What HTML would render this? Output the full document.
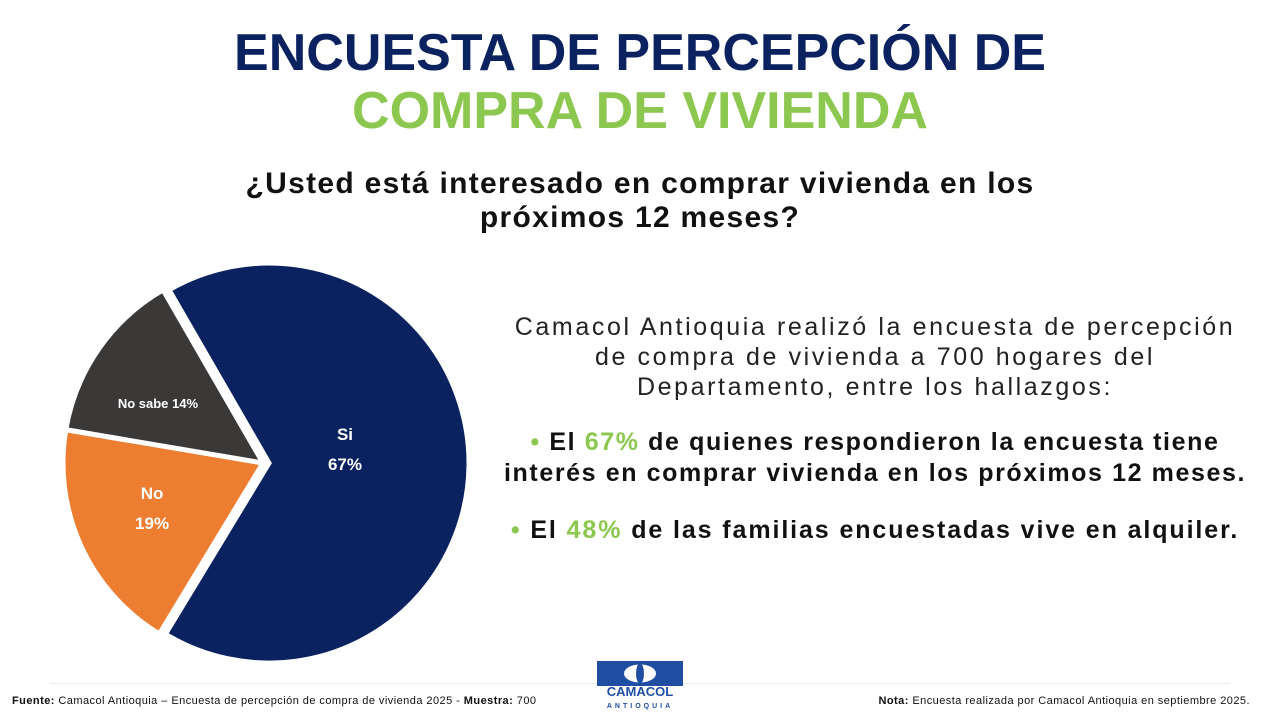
<!DOCTYPE html>
<html><head><meta charset="utf-8"><style>
body{margin:0;width:1280px;height:720px;background:#fff;font-family:"Liberation Sans",sans-serif;position:relative;overflow:hidden}
.abs{position:absolute}
</style></head><body>
<div class="abs" style="left:0;width:1280px;top:23px;text-align:center;font-size:52px;font-weight:bold;color:#0b2260;letter-spacing:0px">ENCUESTA DE PERCEPCIÓN DE</div>
<div class="abs" style="left:0;width:1280px;top:81px;text-align:center;font-size:52px;font-weight:bold;color:#8cc850;letter-spacing:0px">COMPRA DE VIVIENDA</div>
<div class="abs" style="left:0;width:1280px;top:167px;text-align:center;font-size:30px;font-weight:bold;color:#111;line-height:34px;letter-spacing:1.3px">¿Usted está interesado en comprar vivienda en los<br>próximos 12 meses?</div>

<svg class="abs" style="left:0;top:0" width="1280" height="720" id="pie"></svg>

<div class="abs" style="left:480px;width:790px;top:312px;text-align:center;font-size:25px;color:#222;line-height:30px;letter-spacing:2.6px">Camacol Antioquia realizó la encuesta de percepción<br>de compra de vivienda a 700 hogares del<br>Departamento, entre los hallazgos:</div>
<div class="abs" style="left:480px;width:790px;top:427px;text-align:center;font-size:25px;font-weight:bold;color:#111;line-height:31px;letter-spacing:1.6px"><span style="color:#8cc850">•</span> El <span style="color:#8cc850">67%</span> de quienes respondieron la encuesta tiene<br>interés en comprar vivienda en los próximos 12 meses.</div>
<div class="abs" style="left:480px;width:790px;top:515px;text-align:center;font-size:25px;font-weight:bold;color:#111;line-height:31px;letter-spacing:1.9px"><span style="color:#8cc850">•</span> El <span style="color:#8cc850">48%</span> de las familias encuestadas vive en alquiler.</div>

<div class="abs" style="left:50px;width:1180px;top:683px;height:1px;background:#eee"></div>
<div class="abs" style="left:12px;top:695px;font-size:11px;color:#111;letter-spacing:0.45px"><b>Fuente:</b> Camacol Antioquia – Encuesta de percepción de compra de vivienda 2025 - <b>Muestra:</b> 700</div>
<div class="abs" style="right:30px;top:695px;font-size:11px;color:#111;letter-spacing:0.45px"><b>Nota:</b> Encuesta realizada por Camacol Antioquia en septiembre 2025.</div>
<div class="abs" style="left:597px;top:661px;width:86px;height:25px;background:#1f4ea3">
<svg width="86" height="25"><ellipse cx="43" cy="12.5" rx="16" ry="9" fill="#fff"/><ellipse cx="43" cy="12.5" rx="4" ry="10" fill="#1f4ea3"/></svg></div>
<div class="abs" style="left:590px;width:100px;top:686px;text-align:center;font-size:13px;font-weight:bold;color:#1f4ea3;line-height:12px">CAMACOL<br><span style="font-size:7px;letter-spacing:3px">ANTIOQUIA</span></div>

<script>
const categories=["Si","No","No sabe"];
const values=[67,19,14];
const labels=["67%","19%","14%"];
const colors=["#0b2260","#ed7d31","#3b3838"];
const svg=document.getElementById('pie');
const ns="http://www.w3.org/2000/svg";
const cx=263,cy=463,r=200,start=-30;
const total=values.reduce((a,b)=>a+b,0);
let a=start;
function pt(deg,rad,ox,oy){const t=deg*Math.PI/180;return [ox+rad*Math.sin(t),oy-rad*Math.cos(t)];}
values.forEach((v,i)=>{
  const sweep=v/total*360;const mid=a+sweep/2;
  const off=i===0?6:0;
  const [ox,oy]=pt(mid,off,cx,cy);
  const p1=pt(a,r,ox,oy),p2=pt(a+sweep,r,ox,oy);
  const path=document.createElementNS(ns,'path');
  path.setAttribute('d',`M${ox},${oy}L${p1[0]},${p1[1]}A${r},${r} 0 ${sweep>180?1:0} 1 ${p2[0]},${p2[1]}Z`);
  path.setAttribute('fill',colors[i]);path.setAttribute('stroke','#fff');path.setAttribute('stroke-width','5');
  
  
  svg.appendChild(path);
  const lr=i===0?76:(i===1?122:117);
  const [lx,ly]=pt(mid,lr,ox,oy);
  const t=document.createElementNS(ns,'text');
  t.setAttribute('text-anchor','middle');t.setAttribute('fill','#fff');t.setAttribute('font-weight','bold');
  t.setAttribute('font-family','Liberation Sans, sans-serif');
  
  
  const dy=i===0?-14:-5;
  if(i===2){t.setAttribute('font-size','13');t.setAttribute('x',lx-9);t.setAttribute('y',ly+12);t.textContent=categories[i]+' '+labels[i];}
  else{t.setAttribute('font-size','17');
    const s1=document.createElementNS(ns,'tspan');s1.setAttribute('x',lx);s1.setAttribute('y',ly-10+dy);s1.textContent=categories[i];
    const s2=document.createElementNS(ns,'tspan');s2.setAttribute('x',lx);s2.setAttribute('y',ly+20+dy);s2.textContent=labels[i];
    t.appendChild(s1);t.appendChild(s2);}
  svg.appendChild(t);
  a+=sweep;
});
</script>
</body></html>
